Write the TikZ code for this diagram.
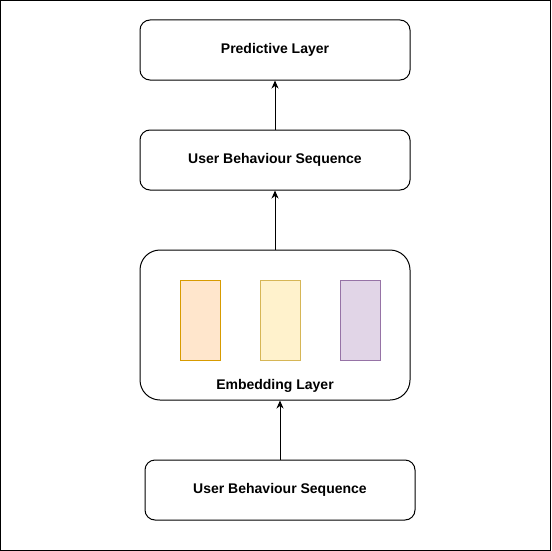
\documentclass[tikz,border=0pt]{standalone}
\usepackage{fontspec}
\setmainfont{Liberation Sans}
\usepackage{tikz}
\usetikzlibrary{positioning,arrows.meta}
\definecolor{orangefill}{HTML}{FFE6CC}
\definecolor{orangedraw}{HTML}{D79B00}
\definecolor{yellowfill}{HTML}{FFF2CC}
\definecolor{yellowdraw}{HTML}{D6B656}
\definecolor{purplefill}{HTML}{E1D5E7}
\definecolor{purpledraw}{HTML}{9673A6}
\tikzset{%
  every layer/.style={
    rectangle,
    rounded corners=10pt,
    draw,
    line width=1pt,
    minimum width=270pt,
    minimum height=60pt,
    font=\fontsize{14}{16}\selectfont\bfseries
  },
  every vector/.style={
    rectangle,
    line width=1pt,
    minimum width=40pt,
    minimum height=80pt
  },
}

\begin{document}
\begin{tikzpicture}[x=1pt, y=-1pt, >={Stealth[length=8pt, width=7pt, inset=2.5pt]}]
        \useasboundingbox (0,0) rectangle (551,551);
        \draw [line width=1pt] (0.5,0.5) rectangle (550.5,550.5);

        % layers
        \node [every layer] (predict) at (275,50) {Predictive Layer};
        \node [every layer] (seq-top) at (275,160) {User Behaviour Sequence};
        \node [every layer, rounded corners=20pt, minimum height=150pt] (embed) at (275,325) {};
        \node [every layer] (seq-in) at (280,490) {User Behaviour Sequence};

        %   embedding vectors
        \foreach \c [count=\i] in {orange,yellow,purple}
        \node [every vector, fill=\c fill, draw=\c draw] (vec-\i) at (120+\i*80,320) {};

        \node [font=\fontsize{14}{16}\selectfont\bfseries] (embed-label) at (275,386) {Embedding Layer};

        % arrows
        \draw [->, line width=1pt] (seq-in.north) -- (seq-in.north |- embed.south);
        \draw [->, line width=1pt] (embed.north) -- (seq-top.south);
        \draw [->, line width=1pt] (seq-top.north) -- (predict.south);

\end{tikzpicture}
\end{document}
